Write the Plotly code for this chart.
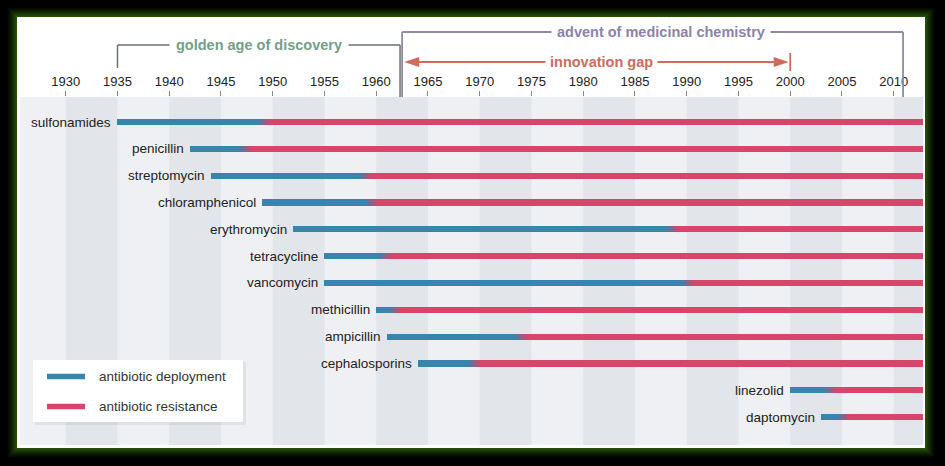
import numpy as np
import plotly.graph_objects as go

# ---------------- data ----------------
antibiotics = ["sulfonamides", "penicillin", "streptomycin", "chloramphenicol",
               "erythromycin", "tetracycline", "vancomycin", "methicillin",
               "ampicillin", "cephalosporins", "linezolid", "daptomycin"]
deployment_year = [1935, 1942, 1944, 1949, 1952, 1955, 1955, 1960, 1961, 1964, 2000, 2003]
resistance_year = [1949.2, 1947.4, 1959.0, 1959.6, 1988.7, 1960.9, 1990.1, 1961.8,
                   1974.0, 1969.5, 2003.9, 2005.2]
end_year = 2013
tick_years = list(range(1930, 2011, 5))
band_starts = list(range(1930, 2011, 10))

era_labels = ["golden age of discovery", "advent of medicinal chemistry", "innovation gap"]
golden_span = [1935, 1962.3]
advent_span = [1962.5, 2010.9]
gap_span = [1962.7, 2000]

legend_labels = ["antibiotic deployment", "antibiotic resistance"]

BLUE = "#3784ad"
RED = "#d8456b"
FONT = "Liberation Sans, Arial, Helvetica, sans-serif"

# pixel helpers for paper-referenced decorations (plot area: x 20..923, y 97..445)
def px(x):
    return (x - 20) / 903.0

def py(y):
    return (445 - y) / 348.0

rows = list(range(len(antibiotics)))
half = 0.6
blue_base = deployment_year
blue_len = [r - half - d for d, r in zip(deployment_year, resistance_year)]
red_base = [r + half for r in resistance_year]
red_len = [end_year - b for b in red_base]

# gradient pieces
nseg = 8
g_base, g_len, g_y, g_col = [], [], [], []
c1 = np.array([0x37, 0x84, 0xad])
c2 = np.array([0xd8, 0x45, 0x6b])
for i, r in enumerate(resistance_year):
    edges = np.linspace(r - half, r + half, nseg + 1)
    for k in range(nseg):
        f = (k + 0.5) / nseg
        c = (c1 * (1 - f) + c2 * f).astype(int)
        g_base.append(edges[k])
        g_len.append(edges[k + 1] - edges[k] + 0.02)
        g_y.append(i)
        g_col.append("rgb(%d,%d,%d)" % tuple(c))

BW = 0.23
fig = go.Figure()
fig.add_trace(go.Bar(orientation="h", y=rows, x=blue_len, base=blue_base, width=BW,
                     marker=dict(color=BLUE, line=dict(width=0)), name=legend_labels[0],
                     showlegend=False, hoverinfo="skip"))
fig.add_trace(go.Bar(orientation="h", y=rows, x=red_len, base=red_base, width=BW,
                     marker=dict(color=RED, line=dict(width=0)), name=legend_labels[1],
                     showlegend=False, hoverinfo="skip"))
fig.add_trace(go.Bar(orientation="h", y=g_y, x=g_len, base=g_base, width=BW,
                     marker=dict(color=g_col, line=dict(width=0)),
                     showlegend=False, hoverinfo="skip"))

shapes = []
# outer green glow
for k in range(11, 0, -1):
    a = (1 - k / 11.0) ** 1.3
    col = "rgba(%d,%d,%d,1)" % (int(44 * a), int(90 * a), int(14 * a))
    shapes.append(dict(type="rect", xref="paper", yref="paper",
                       x0=px(17 - k), x1=px(925 + k), y0=py(448 + k), y1=py(17 - k),
                       line=dict(width=0), fillcolor=col, layer="below"))
# white panel
shapes.append(dict(type="rect", xref="paper", yref="paper",
                   x0=px(17), x1=px(925), y0=py(448), y1=py(17),
                   line=dict(width=0), fillcolor="white", layer="below"))
# plot area background
shapes.append(dict(type="rect", xref="paper", yref="paper", x0=0, x1=1, y0=0, y1=1,
                   line=dict(width=0), fillcolor="#eef0f3", layer="below"))
# darker bands
for b in band_starts:
    shapes.append(dict(type="rect", xref="x", yref="paper", x0=b, x1=b + 5, y0=0, y1=1,
                       line=dict(width=0), fillcolor="#e2e5e9", layer="below"))

# era brackets
GOLD_LINE = "#6b726e"
ADV_LINE = "#8f8aa6"
GAP_COL = "#d06a5c"
yg, ya, yi = py(45), py(32), py(62)
shapes += [
    dict(type="line", xref="x", yref="paper", x0=golden_span[0], x1=golden_span[1], y0=yg, y1=yg,
         line=dict(color=GOLD_LINE, width=1.5)),
    dict(type="line", xref="x", yref="paper", x0=golden_span[0], x1=golden_span[0], y0=yg, y1=py(68),
         line=dict(color=GOLD_LINE, width=1.5)),
    dict(type="line", xref="x", yref="paper", x0=golden_span[1], x1=golden_span[1], y0=yg, y1=1.0,
         line=dict(color=GOLD_LINE, width=1.5)),
    dict(type="line", xref="x", yref="paper", x0=advent_span[0], x1=advent_span[1], y0=ya, y1=ya,
         line=dict(color=ADV_LINE, width=1.8)),
    dict(type="line", xref="x", yref="paper", x0=advent_span[0], x1=advent_span[0], y0=ya, y1=1.0,
         line=dict(color=ADV_LINE, width=1.8)),
    dict(type="line", xref="x", yref="paper", x0=advent_span[1], x1=advent_span[1], y0=ya, y1=1.0,
         line=dict(color=ADV_LINE, width=1.8)),
    dict(type="line", xref="x", yref="paper", x0=gap_span[0] + 1.0, x1=gap_span[1] - 1.0, y0=yi, y1=yi,
         line=dict(color=GAP_COL, width=1.8)),
    dict(type="line", xref="x", yref="paper", x0=gap_span[1], x1=gap_span[1], y0=py(53), y1=py(71),
         line=dict(color=GAP_COL, width=1.8)),
]
# arrowheads
ah_len, ah_h = 1.45, 5.0 / 348.0
shapes.append(dict(type="path", xref="x", yref="paper",
                   path="M %f,%f L %f,%f L %f,%f Z" % (gap_span[0], yi, gap_span[0] + ah_len, yi + ah_h,
                                                      gap_span[0] + ah_len, yi - ah_h),
                   fillcolor=GAP_COL, line=dict(width=0)))
shapes.append(dict(type="path", xref="x", yref="paper",
                   path="M %f,%f L %f,%f L %f,%f Z" % (gap_span[1] - 0.15, yi, gap_span[1] - 0.15 - ah_len, yi + ah_h,
                                                      gap_span[1] - 0.15 - ah_len, yi - ah_h),
                   fillcolor=GAP_COL, line=dict(width=0)))

# legend (drawn)
shapes.append(dict(type="rect", xref="paper", yref="paper",
                   x0=px(35), x1=px(246), y0=py(425), y1=py(362),
                   line=dict(width=0), fillcolor="rgba(0,0,0,0.06)"))
shapes.append(dict(type="rect", xref="paper", yref="paper",
                   x0=px(33), x1=px(243), y0=py(422), y1=py(360),
                   line=dict(width=0), fillcolor="white"))
for yy, col in [(376.5, BLUE), (406.5, RED)]:
    shapes.append(dict(type="line", xref="paper", yref="paper",
                       x0=px(47), x1=px(85), y0=py(yy), y1=py(yy),
                       line=dict(color=col, width=5.5)))

annotations = []
for i, name in enumerate(antibiotics):
    annotations.append(dict(x=deployment_year[i], y=i, xref="x", yref="y", text=name,
                            showarrow=False, xanchor="right", yanchor="middle", xshift=-4,
                            font=dict(family=FONT, size=13.5, color="#222")))
annotations += [
    dict(x=1948.7, y=yg, xref="x", yref="paper", text="<b>%s</b>" % era_labels[0],
         showarrow=False, xanchor="center", yanchor="middle",
         font=dict(family=FONT, size=14.5, color="#72a088"),
         bgcolor="white", borderpad=6),
    dict(x=1987.5, y=ya, xref="x", yref="paper", text="<b>%s</b>" % era_labels[1],
         showarrow=False, xanchor="center", yanchor="middle",
         font=dict(family=FONT, size=14.5, color="#8d82ab"),
         bgcolor="white", borderpad=5),
    dict(x=1981.8, y=yi, xref="x", yref="paper", text="<b>%s</b>" % era_labels[2],
         showarrow=False, xanchor="center", yanchor="middle",
         font=dict(family=FONT, size=14.5, color=GAP_COL),
         bgcolor="white", borderpad=4),
]
for yy, lab in [(376.5, legend_labels[0]), (406.5, legend_labels[1])]:
    annotations.append(dict(x=px(97), y=py(yy), xref="paper", yref="paper", text=lab,
                            showarrow=False, xanchor="left", yanchor="middle",
                            font=dict(family=FONT, size=13.5, color="#333")))

fig.update_layout(
    width=945, height=466,
    margin=dict(l=20, r=22, t=97, b=21),
    paper_bgcolor="black", plot_bgcolor="rgba(0,0,0,0)",
    barmode="overlay", bargap=0,
    showlegend=False,
    shapes=shapes, annotations=annotations,
    xaxis=dict(range=[1925.58, 2012.83], side="top", tickvals=tick_years,
               ticktext=[str(t) for t in tick_years], ticks="outside", ticklen=5,
               tickcolor="#888", tickwidth=1, showgrid=False, zeroline=False, showline=False,
               tickfont=dict(family=FONT, size=13, color="#222"), fixedrange=True),
    yaxis=dict(range=[12.04, -0.932], visible=False, showgrid=False, zeroline=False,
               fixedrange=True),
)

fig.write_html("out.html", config={"displayModeBar": False},
               post_script="document.body.style.margin='0px';document.body.style.overflow='hidden';")
